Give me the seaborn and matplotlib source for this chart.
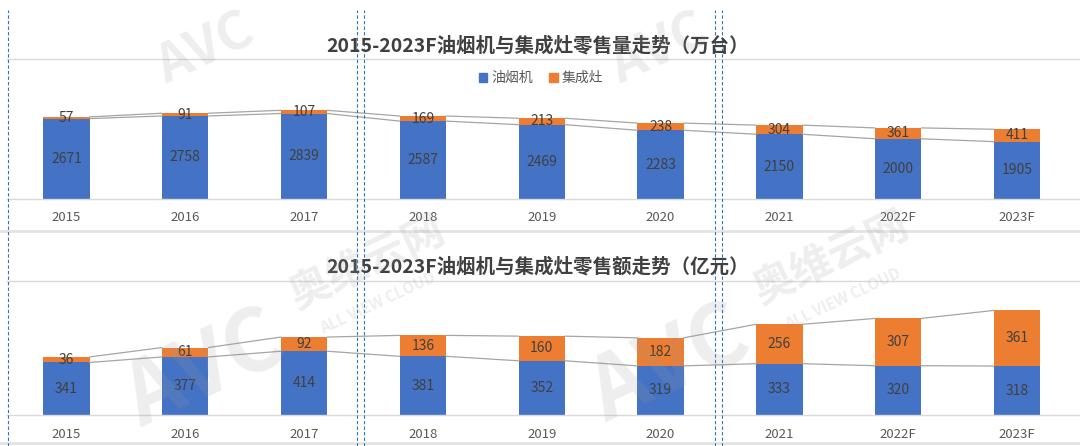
import matplotlib
matplotlib.use("Agg")
import matplotlib.pyplot as plt
from matplotlib.lines import Line2D
from matplotlib.patches import Patch
import pandas as pd
import seaborn as sns

years = ["2015", "2016", "2017", "2018", "2019", "2020", "2021", "2022F", "2023F"]
hood_vol = [2671, 2758, 2839, 2587, 2469, 2283, 2150, 2000, 1905]
stove_vol = [57, 91, 107, 169, 213, 238, 304, 361, 411]
hood_amt = [341, 377, 414, 381, 352, 319, 333, 320, 318]
stove_amt = [36, 61, 92, 136, 160, 182, 256, 307, 361]

title_vol = "2015-2023F油烟机与集成灶零售量走势（万台）"
title_amt = "2015-2023F油烟机与集成灶零售额走势（亿元）"
legend_labels = ["油烟机", "集成灶"]

BLUE = "#4472C4"
ORANGE = "#ED7D31"
TXT = "#404040"
W = 1080
H = 446

sns.set_style("white")
plt.rcParams["font.family"] = ["Noto Sans CJK SC", "DejaVu Sans"]

fig = plt.figure(figsize=(10.8, 4.46), dpi=100)


def px_axes(top, bottom):
    # axes box given in pixel rows of the figure
    return fig.add_axes([7 / W, (H - bottom) / H, 1073 / W, (bottom - top) / H])


def draw(ax, hood, stove, ymax):
    df = pd.DataFrame({"year": years, "hood": hood, "stove": stove})
    df["total"] = df["hood"] + df["stove"]
    bw = 0.39
    sns.barplot(data=df, x="year", y="total", color=ORANGE, width=bw,
                saturation=1, ax=ax, edgecolor="none")
    sns.barplot(data=df, x="year", y="hood", color=BLUE, width=bw,
                saturation=1, ax=ax, edgecolor="none")
    # series lines between neighbouring bars
    for col in ["hood", "total"]:
        v = df[col].tolist()
        for i in range(len(v) - 1):
            ax.plot([i + bw / 2, i + 1 - bw / 2], [v[i], v[i + 1]],
                    color="#A5A5A5", lw=0.9, zorder=1)
    for i, r in df.iterrows():
        ax.text(i, r["hood"] / 2, str(r["hood"]), ha="center", va="center",
                fontsize=10, color=TXT)
        ax.text(i, r["hood"] + r["stove"] / 2, str(r["stove"]), ha="center",
                va="center", fontsize=10, color=TXT)
    ax.set_ylim(0, ymax)
    ax.set_xlim(-0.5, len(years) - 0.5 + 0.03)
    ax.set_xlabel("")
    ax.set_ylabel("")
    ax.set_yticks([])
    ax.tick_params(axis="x", length=0, pad=9, labelsize=9.5, labelcolor="#595959")
    for s in ["left", "right"]:
        ax.spines[s].set_visible(False)
    for s in ["top", "bottom"]:
        ax.spines[s].set_color("#D9D9D9")
        ax.spines[s].set_linewidth(1)


ax1 = px_axes(59, 199)
draw(ax1, hood_vol, stove_vol, 4650)
ax2 = px_axes(281, 415)
draw(ax2, hood_amt, stove_amt, 870)

fig.text(0.498, (H - 46) / H, title_vol, ha="center", va="center",
         fontsize=14, fontweight="bold", color=TXT)
fig.text(0.498, (H - 267) / H, title_amt, ha="center", va="center",
         fontsize=14, fontweight="bold", color=TXT)

handles = [Patch(color=BLUE), Patch(color=ORANGE)]
fig.legend(handles, legend_labels, loc="center", bbox_to_anchor=(0.501, (H - 78) / H),
           ncol=2, frameon=False, fontsize=10, handlelength=0.6, handleheight=0.6,
           handletextpad=0.3, columnspacing=1.2, labelcolor="#595959")

# chart frame separators
for yp in [231, 443]:
    fig.add_artist(Line2D([0, 1], [(H - yp) / H] * 2, color="#E3E3E3", lw=2))

# dashed guides from the page
for xp in [8, 357, 364, 715, 722]:
    fig.add_artist(Line2D([xp / W] * 2, [0, (H - 10) / H], color="#2E75B6",
                          lw=0.8, ls=(0, (3, 2))))

# watermark
wm = dict(color="#9a9a9a", alpha=0.17, fontweight="bold", rotation=25,
          ha="center", va="center", zorder=10)
for x0, y0 in [(0.19, 0.17), (0.62, 0.18)]:
    fig.text(x0, y0, "AVC", fontsize=62, style="italic", **wm)
    fig.text(x0 + 0.15, y0 + 0.24, "奥维云网", fontsize=30, **wm)
    fig.text(x0 + 0.16, y0 + 0.15, "ALL VIEW CLOUD", fontsize=11, **wm)
fig.text(0.19, 0.89, "AVC", fontsize=38, style="italic", **wm)
fig.text(0.61, 0.89, "AVC", fontsize=38, style="italic", **wm)

fig.savefig("out.png", dpi=100)
